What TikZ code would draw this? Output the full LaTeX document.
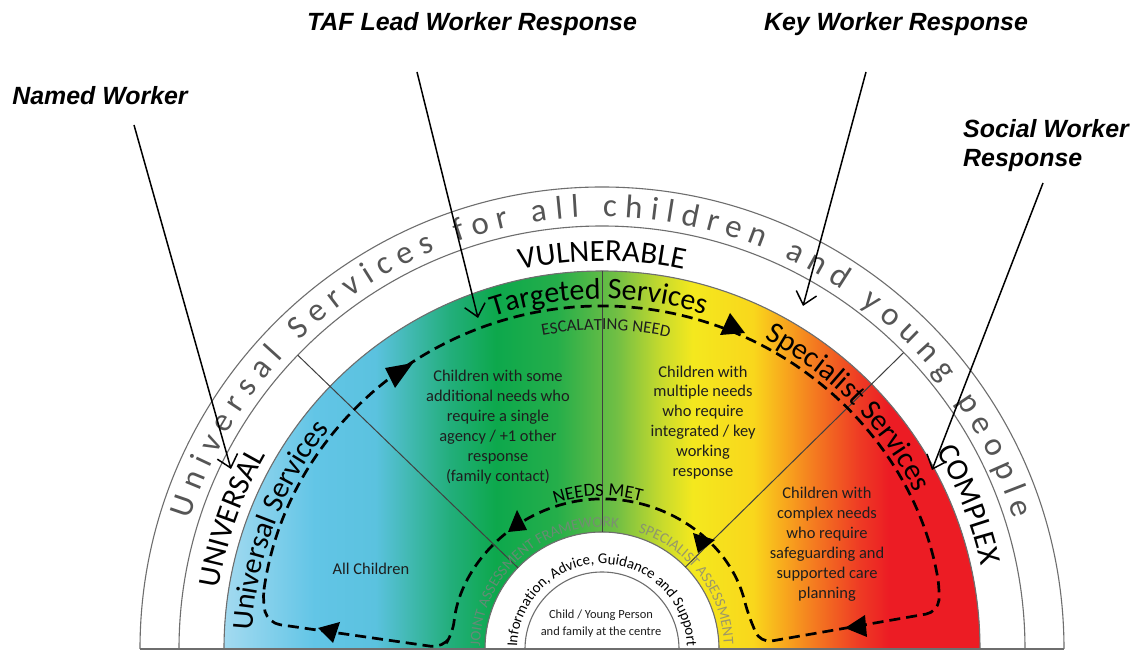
\documentclass[tikz,border=0pt]{standalone}
\usepackage{fontspec}
\setmainfont{Carlito}
\newfontfamily\arialf{Liberation Sans}
\usetikzlibrary{decorations.text,arrows.meta}
\definecolor{s0}{HTML}{A3DAF0}
\definecolor{s1}{HTML}{62C5E6}
\definecolor{s2}{HTML}{5BC2DF}
\definecolor{s3}{HTML}{22AE7A}
\definecolor{s4}{HTML}{0DA84C}
\definecolor{s5}{HTML}{25AE4A}
\definecolor{s6}{HTML}{72BF44}
\definecolor{s7}{HTML}{C9DB2C}
\definecolor{s8}{HTML}{F4E81E}
\definecolor{s9}{HTML}{F9D71C}
\definecolor{s10}{HTML}{F8A91D}
\definecolor{s11}{HTML}{F47B20}
\definecolor{s12}{HTML}{EE3B24}
\definecolor{s13}{HTML}{EC1C24}
\definecolor{ringline}{HTML}{6E6E6E}
\definecolor{ringtext}{HTML}{555555}
\definecolor{bodytext}{HTML}{1E1E1E}
\pgfdeclarehorizontalshading{rainbow}{100bp}{color(0bp)=(s0); color(25bp)=(s0); color(31bp)=(s1); color(35bp)=(s2); color(40bp)=(s3); color(43bp)=(s4); color(47bp)=(s5); color(51bp)=(s6); color(54bp)=(s7); color(56bp)=(s8); color(60bp)=(s9); color(62bp)=(s10); color(64bp)=(s11); color(67bp)=(s12); color(69bp)=(s13); color(100bp)=(s13)}
\begin{document}
\begin{tikzpicture}[x=1bp,y=1bp,
  ring/.style={draw=ringline, line width=1.1bp},
  divider/.style={draw=black!75, line width=1bp},
  loopdash/.style={line width=2.7bp, dash pattern=on 11bp off 6bp, rounded corners=12bp},
  wlabel/.style={font=\arialf\bfseries\itshape\fontsize{25}{29}\selectfont, inner sep=0pt},
  wline/.style={line width=1.5bp, -{Straight Barb[length=12bp,width=21bp]}},
  body/.style={font=\fontsize{16.5}{20}\selectfont, text=bodytext, align=center, inner sep=0pt},
  tri/.style={fill=black}
]
\useasboundingbox (0,0) rectangle (1141,654);
\fill[white] (0,0) rectangle (1141,654);

\begin{scope}[shift={(602,5)}]
  % coloured band
  \fill[shading=rainbow] (378,0) arc[start angle=0,end angle=180,radius=378] -- (-117,0) arc[start angle=180,end angle=0,radius=117] -- cycle;
  % rings
  \draw[ring] (-462,0) arc[start angle=180,end angle=0,radius=462];
  \draw[ring] (-423,0) arc[start angle=180,end angle=0,radius=423];
  \draw[ring] (-378,0) arc[start angle=180,end angle=0,radius=378];
  \draw[ring] (-117,0) arc[start angle=180,end angle=0,radius=117];
  \draw[ring] (-77,0) arc[start angle=180,end angle=0,radius=77];
  \draw[ring] (-462,0) -- (462,0);
  % dividers
  \draw[divider] (136:117) -- (136:423);
  \draw[divider] (44.5:117) -- (44.5:423);
  \draw[divider] (90:117) -- (90:378);

  % outer ring text
  \path[decorate, decoration={text along path, text align=fit to path,
    text={|\fontsize{33}{38}\selectfont\color{ringtext}|Universal Services for all children and young people}}]
    (162.5:432) arc[start angle=162.5,end angle=17.5,radius=432];
  % middle ring
  \path[decorate, decoration={text along path, text align=center,
    text={|\fontsize{31}{37}\selectfont|VULNERABLE}}]
    (150:388) arc[start angle=150,end angle=30,radius=388];
  \path[decorate, decoration={text along path, text align=center,
    text={|\fontsize{31}{37}\selectfont|UNIVERSAL}}]
    (178:388) arc[start angle=178,end angle=143,radius=388];
  \path[decorate, decoration={text along path, text align=center,
    text={|\fontsize{31}{37}\selectfont|COMPLEX}}]
    (39:388) arc[start angle=39,end angle=4,radius=388];
  % band labels
  \path[decorate, decoration={text along path, text align=center,
    text={|\fontsize{30}{36}\selectfont|Targeted Services}}]
    (120:350) arc[start angle=120,end angle=61,radius=350];
  \path[decorate, decoration={text along path, text align=center,
    text={|\fontsize{30}{36}\selectfont|Universal Services}}]
    (180:350) arc[start angle=180,end angle=138,radius=350];
  \path[decorate, decoration={text along path, text align=center,
    text={|\fontsize{30}{36}\selectfont|Specialist Services}}]
    (66:350) arc[start angle=66,end angle=23,radius=350];
  \path[decorate, decoration={text along path, text align=center,
    text={|\fontsize{17}{20}\selectfont\color{bodytext}|ESCALATING NEED}}]
    (110:319) arc[start angle=110,end angle=68.6,radius=319];
  \path[decorate, decoration={text along path, text align=center,
    text={|\fontsize{18.5}{22}\selectfont|NEEDS MET}}]
    (130:153) arc[start angle=130,end angle=53,radius=153];
  \begin{scope}[opacity=0.75]
  \path[decorate, decoration={text along path, text align=center,
    text={|\fontsize{15}{18}\selectfont\color{black!50}|JOINT ASSESSMENT FRAMEWORK}}]
    (180:122) arc[start angle=180,end angle=81,radius=122];
  \path[decorate, decoration={text along path, text align=center,
    text={|\fontsize{15}{18}\selectfont\color{black!50}|SPECIALIST ASSESSMENT}}]
    (75:122) arc[start angle=75,end angle=0,radius=122];
  \end{scope}
  \path[decorate, decoration={text along path, text align=center,
    text={|\fontsize{15}{18}\selectfont|Information, Advice, Guidance and Support}}]
    (179:85) arc[start angle=179,end angle=1,radius=85];

  % dashed loop
  \draw[loopdash] (172:343) arc[start angle=172,end angle=10,radius=343] -- (336,37) -- (158,6) -- (14:150) arc[start angle=14,end angle=174,radius=150] -- (-159,1) -- (-334,26) -- cycle;
\end{scope}

% arrowheads on the dashed loop
\fill[tri] (517,144) -- (508,122) -- (527,124) -- cycle;
\fill[tri] (693,121) -- (715,114) -- (698,101) -- cycle;
\fill[tri] (385,286) -- (413,291) -- (395,266) -- cycle;
\fill[tri] (730,341) -- (720,319) -- (745,321) -- cycle;
\fill[tri] (318,26) -- (340,32) -- (333,11) -- cycle;
\fill[tri] (845,26) -- (865,39) -- (867,17) -- cycle;

% body texts
\node[body] (tLeft) at (498,227) {Children with some\\additional needs who\\require a single\\agency / +1 other\\response\\(family contact)};
\node[body] (tMid) at (703,231.5) {Children with\\multiple needs\\who require\\integrated / key\\working\\response};
\node[body] (tRight) at (827,109.5) {Children with\\complex needs\\who require\\safeguarding and\\supported care\\planning};
\node[body] (tAll) at (371,85) {All Children};
\node[font=\fontsize{12.5}{17}\selectfont, text=bodytext, align=center, inner sep=0pt] (tChild) at (601,30.5) {Child / Young Person\\and family at the centre};

% worker labels
\node[wlabel] (lblNamed) at (100,558) {Named Worker};
\node[wlabel] (lblTAF) at (472,630) {TAF Lead Worker Response};
\node[wlabel] (lblKey) at (896,630) {Key Worker Response};
\node[wlabel, anchor=north west, align=left] (lblSocial) at (963,535) {Social Worker\\Response};

\coordinate (nwS) at (134,529);
\coordinate (nwE) at (231,185);
\coordinate (tafS) at (417,582);
\coordinate (tafE) at (478,336);
\coordinate (kwS) at (866,582);
\coordinate (kwE) at (803,348);
\coordinate (swS) at (1043,471);
\coordinate (swE) at (932,184);
\draw[wline] (nwS) -- (nwE);
\draw[wline] (tafS) -- (tafE);
\draw[wline] (kwS) -- (kwE);
\draw[wline] (swS) -- (swE);
\end{tikzpicture}
\end{document}
